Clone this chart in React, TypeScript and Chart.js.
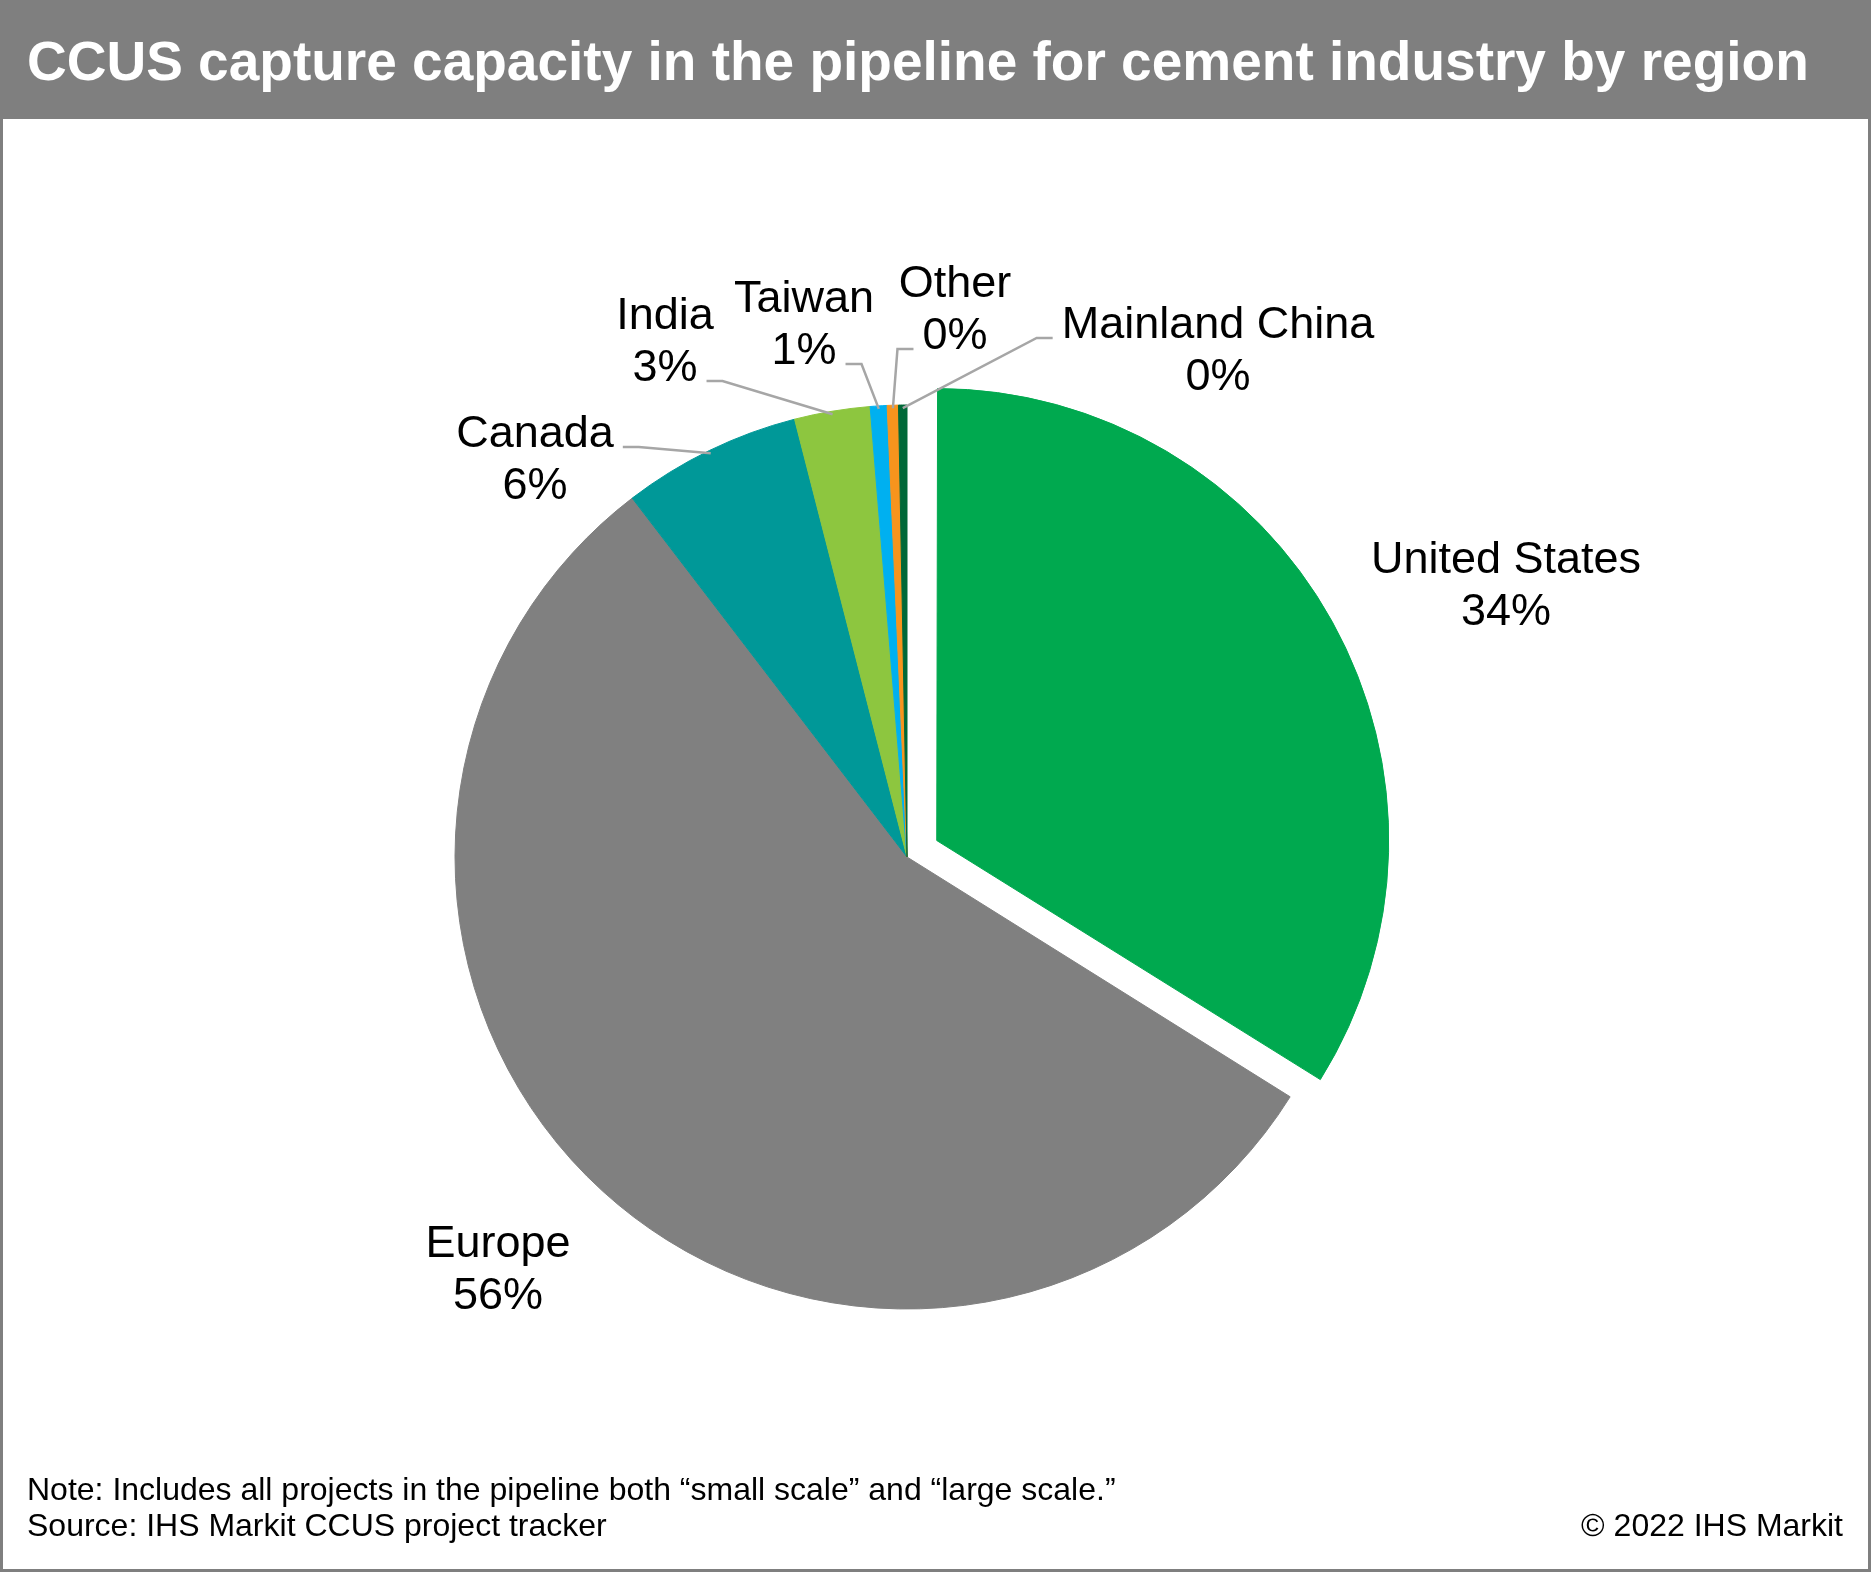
import React, { useEffect, useRef } from "react";
import { Chart, registerables } from "chart.js";

Chart.register(...registerables);

// ---- data ----
const categories = ["United States", "Europe", "Canada", "India", "Taiwan", "Other", "Mainland China"];
const shares = [33.9, 55.7, 6.4, 2.7, 0.6, 0.4, 0.3];

// ---- styling / layout (kept apart from data) ----
const sliceColors = ["#00A94F", "#808080", "#009898", "#8DC63F", "#00B0F0", "#F7941D", "#006838"];
const explodePx = [34, 0, 0, 0, 0, 0, 0];
const PIE_RADIUS = 452;
const LABEL_FONT = 45;
const LINE_H = 52;
const FONT_FAMILY = '"Liberation Sans", Arial, Helvetica, sans-serif';

type Leader = { side: "left" | "right"; line: number } | null;
// label text centre (dx) and first-line baseline (dy), relative to pie centre
const labelLayout: { dx: number; dy: number; leader: Leader }[] = [
  { dx: 599, dy: -284, leader: null },
  { dx: -409, dy: 400, leader: null },
  { dx: -372, dy: -410, leader: { side: "right", line: 0 } },
  { dx: -242, dy: -528, leader: { side: "right", line: 1 } },
  { dx: -103, dy: -545, leader: { side: "right", line: 1 } },
  { dx: 48, dy: -560, leader: { side: "left", line: 1 } },
  { dx: 311, dy: -519, leader: { side: "left", line: 0 } },
];

const labelPlugin = {
  id: "pieLabels",
  beforeDatasetsDraw(chart: any) {
    const meta = chart.getDatasetMeta(0);
    meta.data.forEach((arc: any, i: number) => {
      const off = explodePx[i];
      if (!off) return;
      const circ = arc.endAngle - arc.startAngle;
      const fix = 1 - Math.sin(Math.min(Math.PI, circ));
      arc.outerRadius = PIE_RADIUS - off * fix;
    });
  },
  afterDatasetsDraw(chart: any) {
    const ctx: CanvasRenderingContext2D = chart.ctx;
    const meta = chart.getDatasetMeta(0);
    const total = shares.reduce((a, b) => a + b, 0);
    const cx = meta.data[0].x;
    const cy = meta.data[0].y;
    ctx.save();
    ctx.font = `${LABEL_FONT}px ${FONT_FAMILY}`;
    ctx.fillStyle = "#000000";
    ctx.textAlign = "center";
    ctx.textBaseline = "alphabetic";
    ctx.strokeStyle = "#A6A6A6";
    ctx.lineWidth = 2.5;
    meta.data.forEach((arc: any, i: number) => {
      const lay = labelLayout[i];
      const lines = [categories[i], Math.round((shares[i] / total) * 100) + "%"];
      const x = cx + lay.dx;
      const y0 = cy + lay.dy;
      lines.forEach((t, k) => ctx.fillText(t, x, y0 + k * LINE_H));
      if (lay.leader) {
        const ln = lay.leader.line;
        const w = ctx.measureText(lines[ln]).width;
        const sgn = lay.leader.side === "right" ? 1 : -1;
        const sx = x + sgn * (w / 2 + 9);
        const sy = y0 + ln * LINE_H;
        const ex = sx + sgn * 16;
        const mid = (arc.startAngle + arc.endAngle) / 2;
        const r = PIE_RADIUS - 3;
        const ax = cx + Math.cos(mid) * r;
        const ay = cy + Math.sin(mid) * r;
        ctx.beginPath();
        ctx.moveTo(sx, sy);
        ctx.lineTo(ex, sy);
        ctx.lineTo(ax, ay);
        ctx.stroke();
      }
    });
    ctx.restore();
  },
};

export default function App() {
  const ref = useRef<HTMLCanvasElement | null>(null);

  useEffect(() => {
    if (!ref.current) return;
    const chart = new Chart(ref.current, {
      type: "pie",
      data: {
        labels: categories,
        datasets: [
          {
            data: shares,
            backgroundColor: sliceColors,
            borderColor: sliceColors,
            borderWidth: 1,
            offset: explodePx.map((o) => o * 4),
            hoverOffset: 0,
          },
        ],
      },
      options: {
        responsive: false,
        animation: false,
        radius: PIE_RADIUS,
        layout: { padding: { left: 0, right: 57, top: 142, bottom: 0 } },
        plugins: {
          legend: { display: false },
          tooltip: { enabled: false },
          title: { display: false },
        },
        events: [],
      } as any,
      plugins: [labelPlugin],
    });
    return () => chart.destroy();
  }, []);

  const W = 1871;
  const H = 1572;
  return (
    <div
      style={{
        position: "absolute",
        left: 0,
        top: 0,
        width: W,
        height: H,
        background: "#ffffff",
        overflow: "hidden",
        fontFamily: FONT_FAMILY,
      }}
    >
      <div style={{ position: "absolute", left: 0, top: 0, width: W, height: 119, background: "#7F7F7F" }} />
      <div
        style={{
          position: "absolute",
          left: 27,
          top: 34,
          fontSize: 55,
          lineHeight: "55px",
          fontWeight: "bold",
          color: "#ffffff",
          whiteSpace: "nowrap",
        }}
      >
        CCUS capture capacity in the pipeline for cement industry by region
      </div>
      <canvas ref={ref} width={W} height={H} style={{ position: "absolute", left: 0, top: 0, width: W, height: H }} />
      <div
        style={{
          position: "absolute",
          left: 27,
          top: 1473,
          fontSize: 32,
          lineHeight: "32px",
          color: "#000",
          whiteSpace: "nowrap",
        }}
      >
        Note: Includes all projects in the pipeline both “small scale” and “large scale.”
      </div>
      <div
        style={{
          position: "absolute",
          left: 27,
          top: 1509,
          fontSize: 32,
          lineHeight: "32px",
          color: "#000",
          whiteSpace: "nowrap",
        }}
      >
        Source: IHS Markit CCUS project tracker
      </div>
      <div
        style={{
          position: "absolute",
          right: 28,
          top: 1509,
          fontSize: 32,
          lineHeight: "32px",
          color: "#000",
          whiteSpace: "nowrap",
        }}
      >
        © 2022 IHS Markit
      </div>
      <div
        style={{
          position: "absolute",
          left: 0,
          top: 0,
          width: W,
          height: H,
          boxSizing: "border-box",
          border: "3px solid #7F7F7F",
          pointerEvents: "none",
        }}
      />
    </div>
  );
}
